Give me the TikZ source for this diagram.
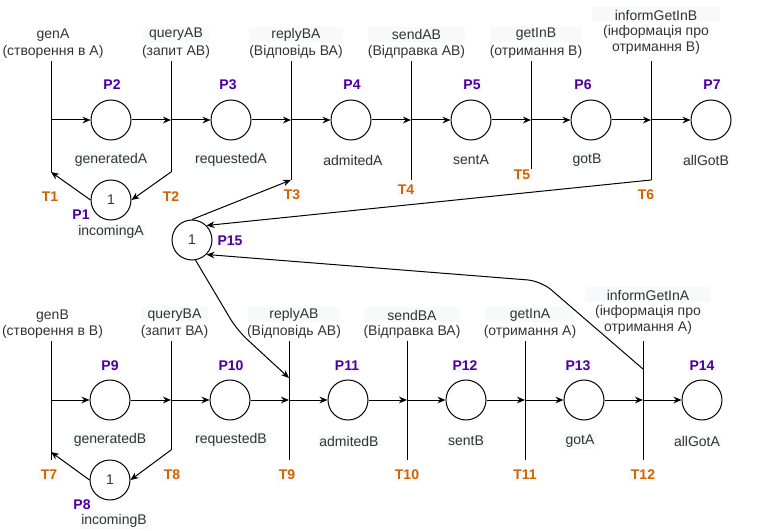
\documentclass[tikz,border=0pt]{standalone}
\usepackage{fontspec}
\setmainfont{Liberation Sans}
\usetikzlibrary{arrows.meta}
\definecolor{lbg}{HTML}{F8F9FA}
\definecolor{txt}{HTML}{333333}
\definecolor{pcol}{HTML}{4C0099}
\definecolor{tcol}{HTML}{CC6600}
\begin{document}
\begin{tikzpicture}[x=0.75pt,y=-0.75pt,
  every node/.style={font=\fontsize{10.5}{12.5}\selectfont, text=txt},
  place/.style={circle,draw=black,line width=0.75pt,minimum size=30pt,inner sep=0pt},
  trline/.style={draw=black,line width=0.75pt},
  arr/.style={draw=black,line width=0.75pt,-{Stealth[length=6pt,width=5pt]}},
  plab/.style={font=\fontsize{10.5}{12}\selectfont\bfseries,text=pcol,fill=lbg,inner sep=1pt},
  tlab/.style={font=\fontsize{10.5}{12}\selectfont\bfseries,text=tcol,fill=lbg,inner sep=1pt},
  nlab/.style={fill=lbg,inner sep=1pt},
  tname/.style={fill=lbg,inner sep=0pt,minimum height=11.25pt},
  tdesc/.style={inner sep=0pt,align=center},
]
\useasboundingbox (0,0) rectangle (772,531);

% ---------------- top row: transitions ----------------
\foreach \n/\x/\b in {1/51/172,2/171/172,3/291/180,4/411/180,5/531/180,6/651/180}{
  \coordinate (T\n) at (\x,120);
  \coordinate (T\n t) at (\x,61);
  \coordinate (T\n b) at (\x,\b);
  \draw[trline] (T\n t) -- (T\n b);
}
% ---------------- bottom row: transitions ----------------
\foreach \n/\x/\b in {7/51/460,8/171/450,9/289/460,10/407/460,11/525/460,12/643/460}{
  \coordinate (T\n) at (\x,400);
  \coordinate (T\n t) at (\x,341);
  \coordinate (T\n b) at (\x,\b);
  \draw[trline] (T\n t) -- (T\n b);
}
\coordinate (T7in) at (51,452);
\coordinate (T9in) at (289,378);
\coordinate (T12out) at (643,369);

% transition labels (top)
\node[tdesc] (T1d) at (53,43.5) {genA\\(створення в А)};
\node[tname,minimum width=50pt] (T2n) at (176,34.5) {queryAB};
\node[tdesc] (T2d) at (176,52) {(запит АВ)};
\node[tname,minimum width=70.5pt] (T3n) at (296,34.5) {replyBA};
\node[tdesc] (T3d) at (296,52) {(Відповідь ВА)};
\node[tname,minimum width=73pt] (T4n) at (416.5,34.5) {sendAB};
\node[tdesc] (T4d) at (416.5,52) {(Відправка АВ)};
\node[tname,minimum width=69pt] (T5n) at (536,34.5) {getInB};
\node[tdesc] (T5d) at (536,52) {(отримання В)};
\node[tname,minimum width=96pt] (T6n) at (656,15) {informGetInB};
\node[tdesc] (T6d) at (656,40) {(інформація про\\отримання В)};

% transition labels (bottom)
\node[tdesc] (T7d) at (52.5,324) {genB\\(створення в В)};
\node[tname,minimum width=50pt] (T8n) at (174.5,315) {queryBA};
\node[tdesc] (T8d) at (174.5,332) {(запит ВА)};
\node[tname,minimum width=69pt] (T9n) at (294,315) {replyAB};
\node[tdesc] (T9d) at (294,332) {(Відповідь АВ)};
\node[tname,minimum width=72pt] (T10n) at (412,315) {sendBA};
\node[tdesc] (T10d) at (412,332) {(Відправка ВА)};
\node[tname,minimum width=67.5pt] (T11n) at (530,315) {getInA};
\node[tdesc] (T11d) at (530,332) {(отримання А)};
\node[tname,minimum width=94.5pt] (T12n) at (648,295) {informGetInA};
\node[tdesc] (T12d) at (648,320) {(інформація про\\отримання А)};

% T ids
\node[tlab] (T1l) at (50,197) {T1};
\node[tlab] (T2l) at (171,197) {T2};
\node[tlab] (T3l) at (292,195) {T3};
\node[tlab] (T4l) at (406,190) {T4};
\node[tlab] (T5l) at (522,175) {T5};
\node[tlab] (T6l) at (646,195) {T6};
\node[tlab] (T7l) at (49,475) {T7};
\node[tlab] (T8l) at (172,475) {T8};
\node[tlab] (T9l) at (287,475) {T9};
\node[tlab] (T10l) at (407,475) {T10};
\node[tlab] (T11l) at (525,475) {T11};
\node[tlab] (T12l) at (643,475) {T12};

% ---------------- places ----------------
\node[place] (P1) at (111,200) {1};
\node[place] (P2) at (111,120) {};
\node[place] (P3) at (231,120) {};
\node[place] (P4) at (351,120) {};
\node[place] (P5) at (471,120) {};
\node[place] (P6) at (591,120) {};
\node[place] (P7) at (711,120) {};
\node[place] (P8) at (110,480) {1};
\node[place] (P9) at (110,400) {};
\node[place] (P10) at (230,400) {};
\node[place] (P11) at (348,400) {};
\node[place] (P12) at (466,400) {};
\node[place] (P13) at (584,400) {};
\node[place] (P14) at (702,400) {};
\node[place] (P15) at (192,240) {1};

% place ids
\node[plab] (P1l) at (81,215) {P1};
\node[plab] (P2l) at (112,85) {P2};
\node[plab] (P3l) at (228,85) {P3};
\node[plab] (P4l) at (352,85) {P4};
\node[plab] (P5l) at (472,85) {P5};
\node[plab] (P6l) at (583,85) {P6};
\node[plab] (P7l) at (712,85) {P7};
\node[plab] (P8l) at (82,505) {P8};
\node[plab] (P9l) at (110,366) {P9};
\node[plab] (P10l) at (231,366) {P10};
\node[plab] (P11l) at (347,366) {P11};
\node[plab] (P12l) at (465,366) {P12};
\node[plab] (P13l) at (578,366) {P13};
\node[plab] (P14l) at (702,366) {P14};
\node[plab] (P15l) at (230,241) {P15};

% place names
\node[nlab] (P1n) at (111,232) {incomingA};
\node[nlab] (P2n) at (111,160) {generatedA};
\node[nlab] (P3n) at (231,160) {requestedA};
\node[nlab] (P4n) at (353,160) {admitedA};
\node[nlab] (P5n) at (471,160) {sentA};
\node[nlab] (P6n) at (587,160) {gotB};
\node[nlab] (P7n) at (706,160) {allGotB};
\node[nlab] (P8n) at (114,521) {incomingB};
\node[nlab] (P9n) at (110,440) {generatedB};
\node[nlab] (P10n) at (231,440) {requestedB};
\node[nlab] (P11n) at (349,441) {admitedB};
\node[nlab] (P12n) at (466,441) {sentB};
\node[nlab] (P13n) at (580,441) {gotA};
\node[nlab] (P14n) at (697,441) {allGotA};

% ---------------- arcs: top row ----------------
\draw[arr] (T1) -- (P2);
\draw[arr] (P2) -- (T2);
\draw[arr] (T2) -- (P3);
\draw[arr] (P3) -- (T3);
\draw[arr] (T3) -- (P4);
\draw[arr] (P4) -- (T4);
\draw[arr] (T4) -- (P5);
\draw[arr] (P5) -- (T5);
\draw[arr] (T5) -- (P6);
\draw[arr] (P6) -- (T6);
\draw[arr] (T6) -- (P7);
\draw[arr] (P1.west) -- (T1b);
\draw[arr] (T2b) -- (P1.east);

% ---------------- arcs: bottom row ----------------
\draw[arr] (T7) -- (P9);
\draw[arr] (P9) -- (T8);
\draw[arr] (T8) -- (P10);
\draw[arr] (P10) -- (T9);
\draw[arr] (T9) -- (P11);
\draw[arr] (P11) -- (T10);
\draw[arr] (T10) -- (P12);
\draw[arr] (P12) -- (T11);
\draw[arr] (T11) -- (P13);
\draw[arr] (P13) -- (T12);
\draw[arr] (T12) -- (P14);
\draw[arr] (P8.west) -- (T7in);
\draw[arr] (T8b) -- (P8.east);

% ---------------- arcs: shared place P15 ----------------
\coordinate (bendA) at (237,330);
\coordinate (bendB) at (541,281);
\draw[arr] (P15.north) -- (T3b);
\draw[arr] (T6b) -- (P15.45);
\draw[arr,rounded corners=10pt] (T12out) -- (bendB) -- (P15.-45);
\draw[arr,rounded corners=10pt] (P15.-80) -- (bendA) -- (T9in);
\end{tikzpicture}
\end{document}
